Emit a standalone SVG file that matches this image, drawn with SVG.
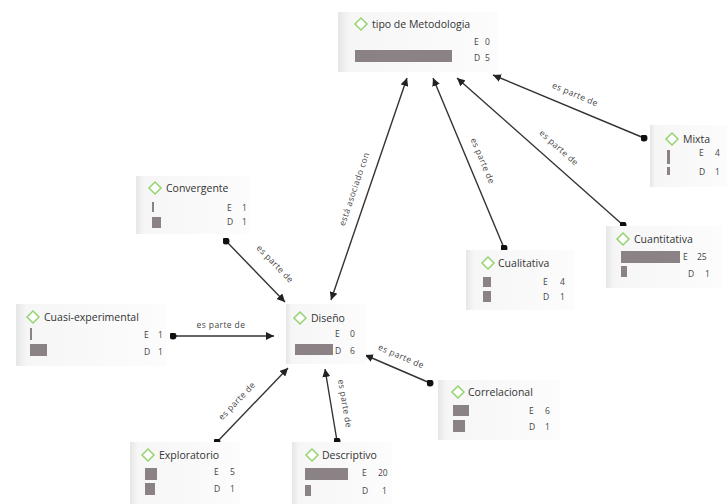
<svg xmlns="http://www.w3.org/2000/svg" width="727" height="504" viewBox="0 0 727 504">
<style>
.panel{fill:url(#pg)}
.dia{fill:#fff;stroke:#94d36f;stroke-width:1.5}
.title{font-family:"Open Sans","Liberation Sans",sans-serif;font-size:10.5px;fill:#333}
.ed{font-family:"Open Sans","Liberation Sans",sans-serif;font-size:8.5px;fill:#444}
.bar{fill:#8b8286}
.edge{stroke:#333;stroke-width:1.4;fill:none;marker-end:url(#arr);marker-start:url(#dot)}
.both{marker-start:url(#arrs)}
.lbl{font-family:"Open Sans","Liberation Sans",sans-serif;font-size:8.5px;letter-spacing:0.4px;fill:#444;text-anchor:middle}
</style>
<defs>
<linearGradient id="pg" x1="0" y1="0" x2="1" y2="0">
<stop offset="0" stop-color="#e6e6e6"/>
<stop offset="0.07" stop-color="#f6f6f6"/>
<stop offset="1" stop-color="#fcfcfc"/>
</linearGradient>
<marker id="arr" viewBox="0 0 10 10" refX="10" refY="5" markerWidth="8" markerHeight="8" markerUnits="userSpaceOnUse" orient="auto"><path d="M0,0 L10,5 L0,10 z" fill="#222"/></marker>
<marker id="arrs" viewBox="0 0 10 10" refX="10" refY="5" markerWidth="8" markerHeight="8" markerUnits="userSpaceOnUse" orient="auto-start-reverse"><path d="M0,0 L10,5 L0,10 z" fill="#222"/></marker>
<marker id="dot" viewBox="0 0 10 10" refX="5" refY="5" markerWidth="7" markerHeight="7" markerUnits="userSpaceOnUse"><circle cx="5" cy="5" r="5" fill="#111"/></marker>
</defs>
<rect width="727" height="504" fill="#fff"/>

<g id="connectors">
<line class="edge both" x1="331" y1="300" x2="407" y2="78"/>
<text class="lbl" transform="translate(357,190) rotate(-71.2)">está asociado con</text>
<line class="edge" x1="504" y1="248" x2="433" y2="78"/>
<text class="lbl" transform="translate(480,162) rotate(67.4)">es parte de</text>
<line class="edge" x1="623" y1="225" x2="457" y2="78"/>
<text class="lbl" transform="translate(557,150) rotate(41.7)">es parte de</text>
<line class="edge" x1="644" y1="138" x2="493" y2="75"/>
<text class="lbl" transform="translate(574,97) rotate(22.6)">es parte de</text>
<line class="edge" x1="226" y1="241" x2="285" y2="302"/>
<text class="lbl" transform="translate(273,266) rotate(46)">es parte de</text>
<line class="edge" x1="173" y1="336" x2="274" y2="336"/>
<text class="lbl" x="221" y="328">es parte de</text>
<line class="edge" x1="430" y1="383" x2="365" y2="355"/>
<text class="lbl" transform="translate(400,359) rotate(23.3)">es parte de</text>
<line class="edge" x1="217" y1="442" x2="288" y2="368"/>
<text class="lbl" transform="translate(239,403) rotate(-46.2)">es parte de</text>
<line class="edge" x1="337" y1="441" x2="325" y2="369"/>
<text class="lbl" transform="translate(342,404) rotate(80.5)">es parte de</text>
</g>

<g id="tipo">
<rect class="panel" x="338" y="12" width="160" height="60"/>
<path class="dia" d="M355,24 L361,18 L367,24 L361,30 z"/>
<text class="title" x="372" y="28">tipo de Metodologia</text>
<rect class="bar" x="355" y="50" width="97" height="12"/>
<text class="ed" x="474" y="45">E</text><text class="ed" x="485" y="45">0</text>
<text class="ed" x="474" y="61">D</text><text class="ed" x="485" y="61">5</text>
</g>

<g id="mixta">
<rect class="panel" x="650" y="125" width="77" height="62"/>
<path class="dia" d="M666,139 L672,133 L678,139 L672,145 z"/>
<text class="title" x="683" y="143">Mixta</text>
<rect class="bar" x="667" y="150" width="3" height="14"/>
<rect class="bar" x="667" y="167" width="3" height="8"/>
<text class="ed" x="699" y="156">E</text><text class="ed" x="715" y="156">4</text>
<text class="ed" x="699" y="175">D</text><text class="ed" x="715" y="175">1</text>
</g>

<g id="convergente">
<rect class="panel" x="136" y="176" width="114" height="58"/>
<path class="dia" d="M149,188 L155,182 L161,188 L155,194 z"/>
<text class="title" x="166" y="192">Convergente</text>
<rect class="bar" x="152" y="202" width="2" height="10"/>
<rect class="bar" x="152" y="217" width="9" height="11"/>
<text class="ed" x="227" y="211">E</text><text class="ed" x="242" y="211">1</text>
<text class="ed" x="227" y="225">D</text><text class="ed" x="242" y="225">1</text>
</g>

<g id="cualitativa">
<rect class="panel" x="466" y="250" width="108" height="60"/>
<path class="dia" d="M482,263 L488,257 L494,263 L488,269 z"/>
<text class="title" x="498" y="267">Cualitativa</text>
<rect class="bar" x="483" y="277" width="8" height="10"/>
<rect class="bar" x="483" y="291" width="8" height="11"/>
<text class="ed" x="543" y="285">E</text><text class="ed" x="560" y="285">4</text>
<text class="ed" x="543" y="300">D</text><text class="ed" x="560" y="300">1</text>
</g>

<g id="cuantitativa">
<rect class="panel" x="606" y="226" width="116" height="62"/>
<path class="dia" d="M617,239 L623,233 L629,239 L623,245 z"/>
<text class="title" x="634" y="243">Cuantitativa</text>
<rect class="bar" x="621" y="251" width="59" height="12"/>
<rect class="bar" x="621" y="266" width="6" height="11"/>
<text class="ed" x="683" y="260">E</text><text class="ed" x="697" y="260">25</text>
<text class="ed" x="688" y="277">D</text><text class="ed" x="705" y="277">1</text>
</g>

<g id="cuasi">
<rect class="panel" x="16" y="304" width="150" height="62"/>
<path class="dia" d="M27,317 L33,311 L39,317 L33,323 z"/>
<text class="title" x="44" y="321">Cuasi-experimental</text>
<rect class="bar" x="30" y="328" width="2" height="12"/>
<rect class="bar" x="30" y="344" width="17" height="12"/>
<text class="ed" x="144" y="338">E</text><text class="ed" x="158" y="338">1</text>
<text class="ed" x="144" y="355">D</text><text class="ed" x="158" y="355">1</text>
</g>

<g id="diseno">
<rect class="panel" x="286" y="304" width="80" height="60"/>
<path class="dia" d="M294,318 L300,312 L306,318 L300,324 z"/>
<text class="title" x="311" y="322">Diseño</text>
<rect class="bar" x="295" y="344" width="38" height="11"/>
<text class="ed" x="335" y="337">E</text><text class="ed" x="350" y="337">0</text>
<text class="ed" x="335" y="354">D</text><text class="ed" x="350" y="354">6</text>
</g>

<g id="correlacional">
<rect class="panel" x="438" y="380" width="122" height="60"/>
<path class="dia" d="M452,392 L458,386 L464,392 L458,398 z"/>
<text class="title" x="468" y="396">Correlacional</text>
<rect class="bar" x="453" y="405" width="16" height="11"/>
<rect class="bar" x="453" y="420" width="12" height="12"/>
<text class="ed" x="529" y="414">E</text><text class="ed" x="545" y="414">6</text>
<text class="ed" x="529" y="430">D</text><text class="ed" x="545" y="430">1</text>
</g>

<g id="exploratorio">
<rect class="panel" x="130" y="442" width="110" height="62"/>
<path class="dia" d="M142,455 L148,449 L154,455 L148,461 z"/>
<text class="title" x="159" y="459">Exploratorio</text>
<rect class="bar" x="145" y="468" width="12" height="12"/>
<rect class="bar" x="145" y="483" width="10" height="12"/>
<text class="ed" x="214" y="475">E</text><text class="ed" x="230" y="475">5</text>
<text class="ed" x="214" y="492">D</text><text class="ed" x="230" y="492">1</text>
</g>

<g id="descriptivo">
<rect class="panel" x="292" y="442" width="100" height="62"/>
<path class="dia" d="M306,455 L312,449 L318,455 L312,461 z"/>
<text class="title" x="322" y="459">Descriptivo</text>
<rect class="bar" x="305" y="468" width="43" height="12"/>
<rect class="bar" x="305" y="485" width="6" height="11"/>
<text class="ed" x="362" y="476">E</text><text class="ed" x="378" y="476">20</text>
<text class="ed" x="362" y="494">D</text><text class="ed" x="382" y="494">1</text>
</g>
</svg>
